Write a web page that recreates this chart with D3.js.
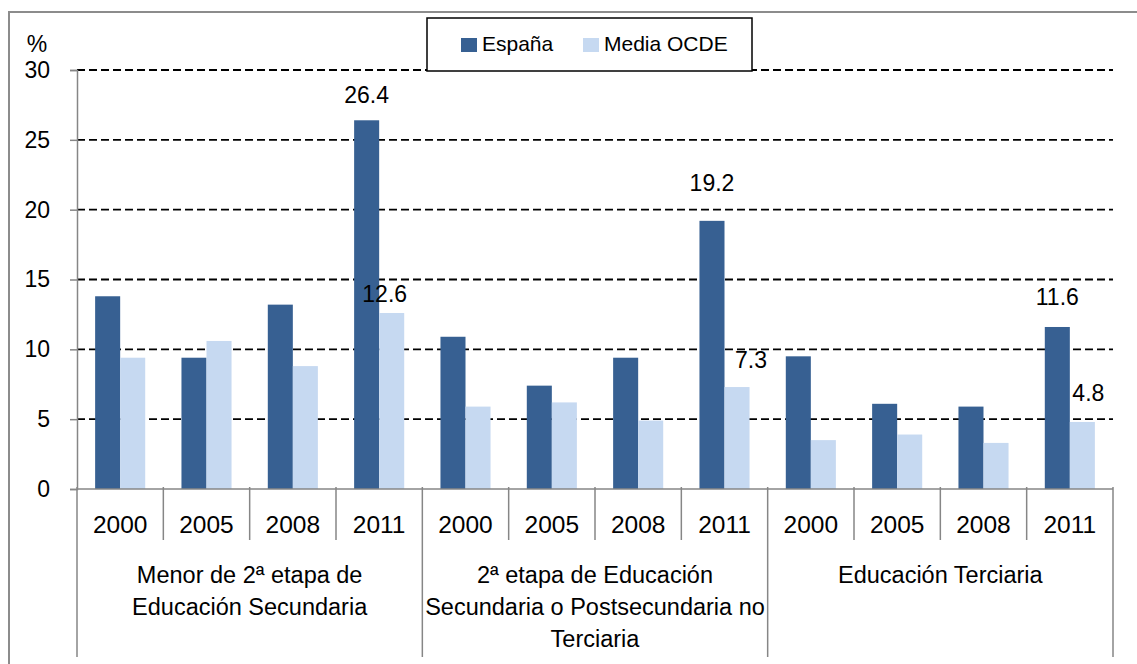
<!DOCTYPE html>
<html><head><meta charset="utf-8">
<script src="https://cdn.jsdelivr.net/npm/d3@7"></script>
<style>body{margin:0;background:#fff}svg{display:block;font-family:"Liberation Sans",Arial,sans-serif}</style>
</head><body><svg id="c" width="1137" height="664"></svg>
<script>
const groups = [
  ["Menor de 2ª etapa de", "Educación Secundaria"],
  ["2ª etapa de Educación", "Secundaria o Postsecundaria no", "Terciaria"],
  ["Educación Terciaria"]
];
const years = ["2000", "2005", "2008", "2011"];
const seriesNames = ["España", "Media OCDE"];
const espana = [13.8, 9.4, 13.2, 26.4, 10.9, 7.4, 9.4, 19.2, 9.5, 6.1, 5.9, 11.6];
const ocde   = [9.4, 10.6, 8.8, 12.6, 5.9, 6.2, 4.9, 7.3, 3.5, 3.9, 3.3, 4.8];
const labelled = [3, 7, 11];
const yTicks = [0, 5, 10, 15, 20, 25, 30];
const colors = ["#376092", "#C6D9F1"];

// label placement (layout only)
const espLabelDy = [17, 30, 22];
const ocdLabelDy = [11, 19, 21];
const ocdLabelDx = [-7, 14, 6];

const svg = d3.select("#c");
const L = 77, R = 1113, T = 70, B = 489;
const cats = d3.range(espana.length).map(i => Math.floor(i / 4) + "-" + years[i % 4]);
const x = d3.scaleBand().domain(cats).range([L, R]).padding(0);
const y = d3.scaleLinear().domain([0, 30]).range([B, T]);
const bw = x.bandwidth() * 0.29;

// outer border
svg.append("rect").attr("x", 9).attr("y", 12).attr("width", 1140).attr("height", 670)
  .attr("fill", "none").attr("stroke", "#8c8c8c").attr("stroke-width", 2);

// gridlines
svg.append("g").selectAll("line").data(yTicks.filter(d => d > 0)).join("line")
  .attr("x1", L).attr("x2", R).attr("y1", d => y(d)).attr("y2", d => y(d))
  .attr("stroke", "#000").attr("stroke-width", 1.8).attr("stroke-dasharray", "8,4");

// y axis
const ya = svg.append("g").attr("transform", `translate(${L},0)`)
  .call(d3.axisLeft(y).tickValues(yTicks).tickSize(7).tickPadding(20).tickFormat(d3.format("d")));
ya.select(".domain").attr("stroke", "#868686").attr("stroke-width", 1.5);
ya.selectAll(".tick line").attr("stroke", "#868686").attr("stroke-width", 1.5);
ya.selectAll("text").attr("font-size", 23).attr("fill", "#000").attr("font-family", "Liberation Sans, Arial, sans-serif");
svg.append("text").attr("x", 37).attr("y", 52).attr("text-anchor", "middle").attr("font-size", 23).text("%");

// bars
const bars = svg.append("g");
bars.selectAll("rect.e").data(espana).join("rect").attr("class", "e")
  .attr("x", (d, i) => x(cats[i]) + x.bandwidth() / 2 - bw).attr("width", bw)
  .attr("y", d => y(d)).attr("height", d => B - y(d)).attr("fill", colors[0]);
bars.selectAll("rect.o").data(ocde).join("rect").attr("class", "o")
  .attr("x", (d, i) => x(cats[i]) + x.bandwidth() / 2).attr("width", bw)
  .attr("y", d => y(d)).attr("height", d => B - y(d)).attr("fill", colors[1]);

// data labels
const lab = svg.append("g").attr("font-size", 23).attr("text-anchor", "middle");
labelled.forEach((i, k) => {
  lab.append("text").attr("x", x(cats[i]) + x.bandwidth() / 2 - bw / 2).attr("y", y(espana[i]) - espLabelDy[k]).text(d3.format(".1f")(espana[i]));
  lab.append("text").attr("x", x(cats[i]) + x.bandwidth() / 2 + bw / 2 + ocdLabelDx[k]).attr("y", y(ocde[i]) - ocdLabelDy[k]).text(d3.format(".1f")(ocde[i]));
});

// x axis
const xa = svg.append("g");
xa.append("line").attr("x1", L).attr("x2", R).attr("y1", B).attr("y2", B).attr("stroke", "#868686").attr("stroke-width", 1.5);
const seps = d3.range(espana.length + 1);
xa.selectAll("line.s").data(seps).join("line").attr("class", "s")
  .attr("x1", i => i < cats.length ? x(cats[i]) : R).attr("x2", i => i < cats.length ? x(cats[i]) : R)
  .attr("y1", B - 2).attr("y2", i => i % 4 === 0 ? 657 : 540)
  .attr("stroke", "#868686").attr("stroke-width", 1.5);
xa.selectAll("text.yr").data(cats).join("text").attr("class", "yr")
  .attr("x", d => x(d) + x.bandwidth() / 2).attr("y", 533).attr("text-anchor", "middle")
  .attr("font-size", 24.5).text((d, i) => years[i % 4]);
groups.forEach((g, gi) => {
  const cx = (x(cats[gi * 4]) + (gi * 4 + 4 < cats.length ? x(cats[gi * 4 + 4]) : R)) / 2;
  g.forEach((line, li) => {
    xa.append("text").attr("x", cx).attr("y", 583 + li * 32).attr("text-anchor", "middle")
      .attr("font-size", 23.5).text(line);
  });
});

// legend
const lg = svg.append("g");
lg.append("rect").attr("x", 427).attr("y", 18).attr("width", 325).attr("height", 53)
  .attr("fill", "#fff").attr("stroke", "#000").attr("stroke-width", 1.5);
const lx = [461, 583];
seriesNames.forEach((s, i) => {
  lg.append("rect").attr("x", lx[i]).attr("y", 38).attr("width", 16).attr("height", 14).attr("fill", colors[i]);
  lg.append("text").attr("x", lx[i] + 21).attr("y", 51).attr("font-size", 21).text(s);
});
</script></body></html>
